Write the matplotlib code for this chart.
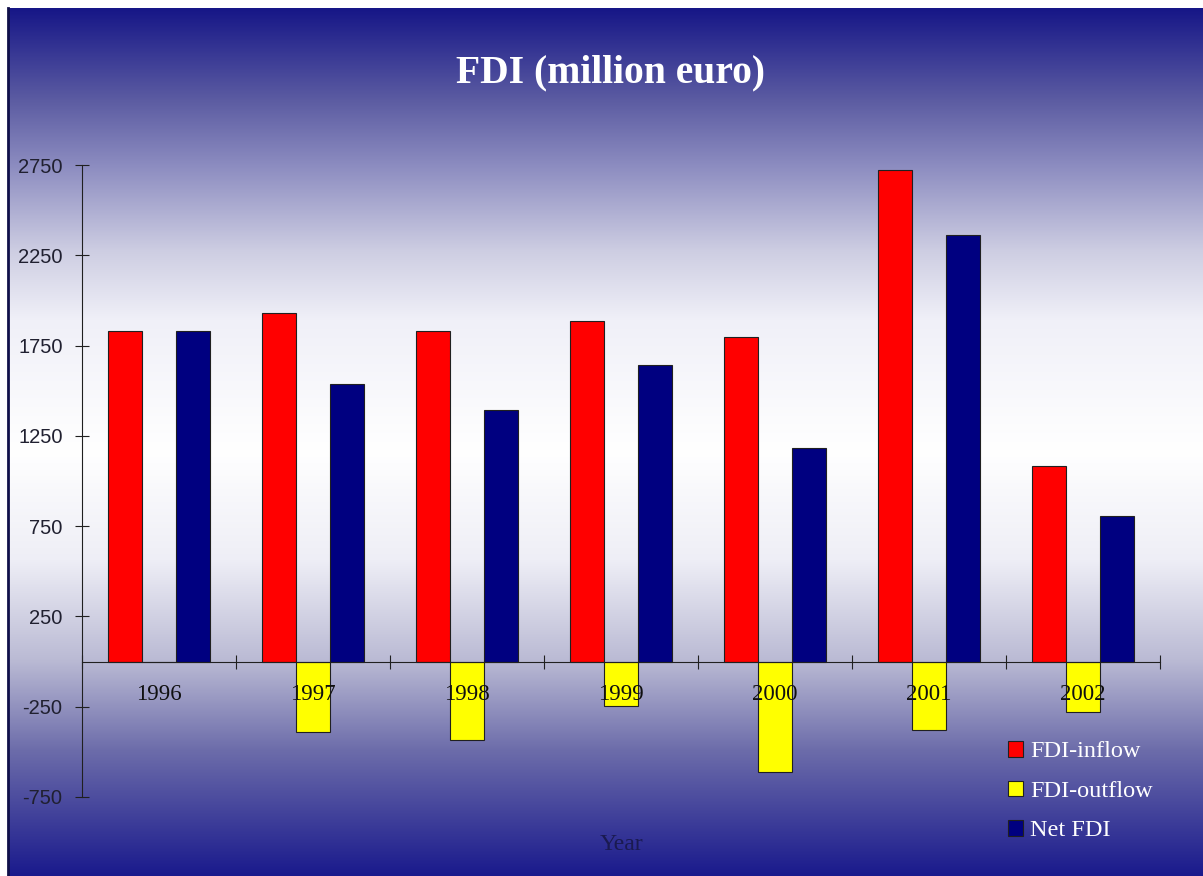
import numpy as np
import matplotlib
matplotlib.use('Agg')
import matplotlib.pyplot as plt

years = ['1996', '1997', '1998', '1999', '2000', '2001', '2002']
inflow = [1830, 1930, 1830, 1885, 1795, 2720, 1085]
outflow = [0, -390, -435, -245, -610, -380, -280]
net = [1830, 1535, 1395, 1640, 1185, 2360, 805]
series_names = ['FDI-inflow', 'FDI-outflow', 'Net FDI']
yticks = [-750, -250, 250, 750, 1250, 1750, 2250, 2750]

W, H = 1203, 876
fig = plt.figure(figsize=(W / 100, H / 100), dpi=100, facecolor='white')

# background gradient (navy -> white -> navy)
stops_px = [8, 100, 165, 250, 320, 450, 560, 660, 750, 876]
stops_rgb = [(22, 22, 135), (92, 92, 162), (140, 140, 192), (205, 205, 226),
             (240, 240, 248), (255, 255, 255), (238, 238, 246), (186, 186, 212),
             (108, 108, 170), (25, 25, 140)]
ys = np.arange(8, H)
cols = np.array([np.interp(ys, stops_px, [c[k] for c in stops_rgb]) for k in range(3)]).T / 255.0
bg = fig.add_axes([8 / W, 0, 1 - 8 / W, 1 - 8 / H], zorder=0)
bg.imshow(cols[:, None, :], aspect='auto', extent=[0, 1, 0, 1], interpolation='bilinear')
bg.set_xticks([]); bg.set_yticks([])
for s in ['top', 'right', 'bottom']:
    bg.spines[s].set_visible(False)
bg.spines['left'].set_color('#10104a')
bg.spines['left'].set_linewidth(2)

ax = fig.add_axes([82 / W, 1 - 797 / H, (1160 - 82) / W, (797 - 165) / H], zorder=1)
ax.patch.set_alpha(0)

x = np.arange(len(years))
w = 1 / 4.5
b1 = ax.bar(x - w, inflow, w, color='#ff0000', edgecolor='#202020', linewidth=0.8, label=series_names[0])
b2 = ax.bar(x, outflow, w, color='#ffff00', edgecolor='#202020', linewidth=0.8, label=series_names[1])
b3 = ax.bar(x + w, net, w, color='#000080', edgecolor='#202020', linewidth=0.8, label=series_names[2])

ax.set_xlim(-0.5, len(years) - 0.5)
ax.set_ylim(-750, 2750)
for s in ['top', 'right']:
    ax.spines[s].set_visible(False)
ax.spines['bottom'].set_position(('data', 0))
ax.spines['bottom'].set_color('#202020')
ax.spines['left'].set_color('#202020')

ax.set_yticks(yticks)
ax.set_yticklabels([str(v) for v in yticks], fontfamily='Liberation Sans', fontsize=14.5, color='#202030')
ax.tick_params(axis='y', direction='inout', length=10, pad=9, color='#202020')

ax.set_xticks(np.arange(-0.5, len(years), 1))
ax.set_xticklabels([])
ax.tick_params(axis='x', which='major', direction='inout', length=10, color='#202020')
ax.set_xticks(x, minor=True)
ax.set_xticklabels(years, minor=True, fontfamily='Liberation Serif', fontsize=16.5, color='#101010')
ax.tick_params(axis='x', which='minor', length=0, pad=16)

fig.text(610 / W, 1 - 82 / H, 'FDI (million euro)', ha='center', va='baseline',
         fontfamily='Liberation Serif', fontweight='bold', fontsize=28.5, color='white')
fig.text(621 / W, 1 - 844 / H, 'Year', ha='center', va='center',
         fontfamily='Liberation Serif', fontsize=17, color='#1a1a50')

leg = ax.legend(handles=[b1, b2, b3], loc='upper left', bbox_to_anchor=(996 / W, 1 - 729 / H),
                bbox_transform=fig.transFigure, frameon=False, prop={'family': 'Liberation Serif', 'size': 17.5},
                handlelength=0.6, handleheight=0.6, handletextpad=0.3, labelspacing=0.75, borderpad=0)
for t in leg.get_texts():
    t.set_color('white')

fig.savefig('out.png', dpi=100, facecolor='white')
